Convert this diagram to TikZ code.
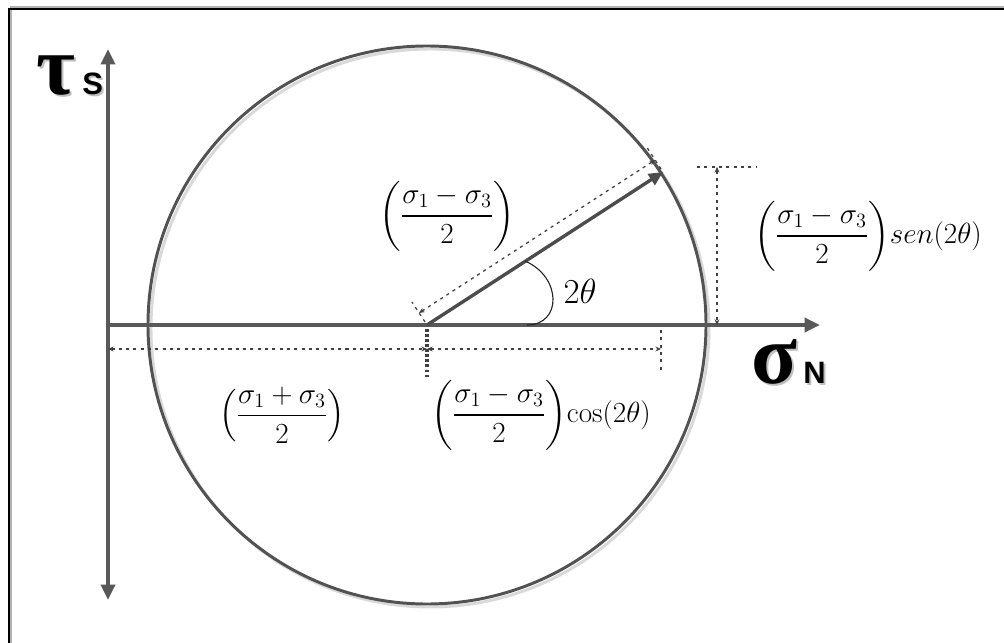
\documentclass[tikz,border=0pt]{standalone}
\usepackage{amsmath,amssymb}
\usepackage{fontspec}
\newfontfamily\axfont{Liberation Sans}
\newfontfamily\grfont{Liberation Serif}
\usetikzlibrary{arrows.meta,positioning,calc}

\begin{document}
\begin{tikzpicture}[
  x=0.025cm,y=-0.025cm,
  axarr/.style={draw=black!65,line width=2.6pt,-{Triangle[length=11pt,width=10pt]}},
  vecarr/.style={draw=black!70,line width=2.4pt,-{Triangle[length=10pt,width=9pt]}},
  circ/.style={draw=black!68,line width=2.1pt},
  shad/.style={draw=black!15,line width=2.1pt},
  dim/.style={draw=black!75,line width=0.9pt,dash pattern=on 2.2pt off 3pt},
  dimarr/.style={dim,{Stealth[length=4pt,width=3.5pt]}-{Stealth[length=4pt,width=3.5pt]}},
  eq/.style={font=\huge,inner sep=0pt},
  axlbl/.style={inner sep=0pt,anchor=base west,font=\grfont\bfseries\fontsize{60}{60}\selectfont},
  axsub/.style={inner sep=0pt,anchor=base west,font=\axfont\bfseries\fontsize{22}{22}\selectfont}
]
\useasboundingbox (0,0) rectangle (1004,643);
% frame
\draw[black!30,line width=1.2pt] (11,643) |- (1004,7);
\draw[black,line width=1.3pt] (9,643) |- (1004,9);

% points
\coordinate (O)  at (427,325);
\coordinate (P)  at (663,172);
\coordinate (xa) at (108,325);
\coordinate (xb) at (820,325);
\coordinate (ya) at (108,600);
\coordinate (yb) at (108,49);

% circle
\draw[shad] ($(O)+(3,3)$) circle[radius=279];
\draw[circ] (O) circle[radius=279];

% axes
\draw[axarr] (xa) -- (xb);
\draw[axarr,{Triangle[length=11pt,width=10pt]}-{Triangle[length=11pt,width=10pt]}] (ya) -- (yb);

% radius dimension
\coordinate (r1) at (419,313);
\coordinate (r2) at (655,160);
\draw[dim] ($(O)+(-2,-3)$) -- (412,302);
\draw[dim] ($(P)+(-2,-3)$) -- (646,146);
\draw[dimarr] (r1) -- (r2);

% radius vector and angle
\draw[vecarr] (O) -- (P);
\coordinate (a1) at (527,325);
\coordinate (a2) at (525,261);
\draw[black!85,line width=0.8pt] (a1) .. controls (562,325) and (562,277) .. (a2);
\node[font=\Huge,inner sep=0pt] (ang) at (580,291) {$2\theta$};

% horizontal dimensions
\coordinate (h0) at (108,349);
\coordinate (h1) at (427,349);
\coordinate (h2) at (661,349);
\draw[dimarr] (h0) -- (h1);
\draw[dimarr] (h1) -- (h2);
\draw[dim,line width=2.2pt,dash pattern=on 2pt off 1.6pt] (427,329) -- (427,377);
\draw[dim] (661,330) -- (661,373);

% vertical dimension
\coordinate (v1) at (717,167);
\coordinate (v2) at (717,325);
\draw[dim] (697,167) -- (757,167);
\draw[dimarr] (v1) -- (v2);

% labels
\node[eq] (lrad) at (447,216) {$\left(\dfrac{\sigma_1-\sigma_3}{2}\right)$};
\node[eq] (lsen) at (868,236) {$\left(\dfrac{\sigma_1-\sigma_3}{2}\right)\!sen(2\theta)$};
\node[eq] (lmid) at (282,415) {$\left(\dfrac{\sigma_1+\sigma_3}{2}\right)$};
\node[eq] (lcos) at (541,415) {$\left(\dfrac{\sigma_1-\sigma_3}{2}\right)\!\cos(2\theta)$};

% axis names
\node[axlbl,text=black!25] at (38,97) {τ};
\node[axlbl] (tau) at (36,95) {τ};
\node[axsub,text=black!25] at (84,97) {S};
\node[axsub] (tauS) at (82,95) {S};
\node[axlbl,text=black!25] at (753,385) {σ};
\node[axlbl] (sig) at (751,383) {σ};
\node[axsub,text=black!25] at (805,385) {N};
\node[axsub] (sigN) at (803,383) {N};
\end{tikzpicture}
\end{document}
